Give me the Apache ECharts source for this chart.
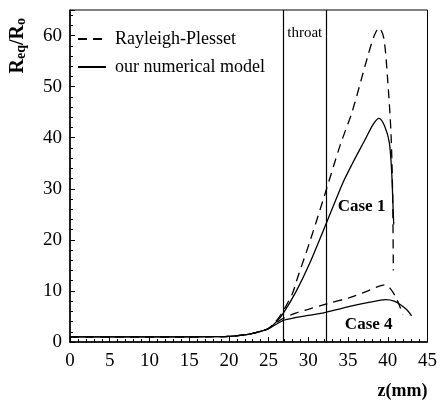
<!DOCTYPE html>
<html>
<head>
<meta charset="utf-8">
<script src="https://cdn.jsdelivr.net/npm/echarts@6/dist/echarts.min.js"></script>
<style>html,body{margin:0;padding:0;background:#fff}#c{width:440px;height:404px}</style>
</head>
<body>
<div id="c"></div>
<script>
// z (mm), Req/R0
var case1RP = [[0,1],[5,1],[10,1],[15,1],[18,1.05],[20,1.1],[22,1.4],[23,1.7],[24,2.1],[25,2.7],[26,4.2],[26.8,6],[28,9.5],[28.5,11.9],[30.2,19.7],[31.8,27.5],[34,38.5],[35.5,45],[37.4,55.5],[38.3,60],[38.9,61.5],[39.5,59.5],[40,51],[40.4,41],[40.6,30],[40.7,14]];
var case1Model = [[0,1],[5,1],[10,1],[15,1],[18,1.05],[20,1.1],[22,1.4],[23,1.7],[24,2.1],[25,2.6],[26,4],[26.8,5.5],[28.5,10],[30.2,15.5],[32.2,23],[34.3,31],[35.5,34.8],[37,39.2],[38.2,42.7],[38.9,43.8],[39.6,42.3],[40.2,39],[40.5,33],[40.65,27],[40.75,23]];
var case4RP = [[0,1],[5,1],[10,1],[15,1],[18,1.05],[20,1.1],[22,1.4],[23,1.7],[24,2.1],[25,2.7],[26.8,4.6],[28.5,5.7],[30,6.4],[32.2,7.4],[35.2,8.7],[37.5,10],[38.7,10.8],[39.6,11.2],[40.3,10.5],[41,8.8],[41.5,7],[41.9,5.3]];
var case4Model = [[0,1],[5,1],[10,1],[15,1],[18,1.05],[20,1.1],[22,1.4],[23,1.7],[24,2.1],[25,2.6],[26.8,4.2],[28.5,4.8],[30,5.2],[32.2,5.8],[34,6.5],[36.5,7.4],[38.5,8.0],[39.8,8.3],[40.8,8.0],[41.6,7.3],[42.4,6.3],[43,5.1]];
var throatLines = [26.9, 32.2];
var seriesNames = ['Rayleigh-Plesset', 'our numerical model'];
var xTicks = [0, 5, 10, 15, 20, 25, 30, 35, 40, 45];
var yTicks = [0, 10, 20, 30, 40, 50, 60];

var FONT = '"Liberation Serif", "DejaVu Serif", serif';
var chart = echarts.init(document.getElementById('c'));
var dashed = [9, 6];
function lineSeries(name, data, type, extra) {
  var s = {
    name: name, type: 'line', data: data, symbol: 'none', smooth: 0.3,
    lineStyle: { color: '#000', width: 1.3, type: type },
    itemStyle: { color: '#000' }, animation: false, silent: true, z: 3
  };
  if (extra) Object.assign(s, extra);
  return s;
}
function txt(coord, text, size, weight) {
  return { coord: coord, symbol: 'circle', symbolSize: 1, itemStyle: { color: 'rgba(0,0,0,0)' },
    label: { show: true, position: 'inside', formatter: text, fontFamily: FONT, fontSize: size, fontWeight: weight, color: '#000' } };
}
var option = {
  animation: false,
  grid: { left: 70, right: 12, top: 10, bottom: 62, show: true, borderColor: '#000', borderWidth: 1 },
  legend: {
    left: 72, top: 25, orient: 'vertical', itemWidth: 28, itemHeight: 14, itemGap: 10,
    data: seriesNames,
    itemStyle: { opacity: 0 },
    textStyle: { fontFamily: FONT, fontSize: 18, color: '#000', padding: [0, 0, 0, 4] }
  },
  xAxis: {
    type: 'value', min: 0, max: 45, interval: 5,
    axisLine: { lineStyle: { color: '#000', width: 1.5 } },
    axisTick: { inside: true, length: 5, lineStyle: { color: '#000' } },
    minorTick: { show: true, splitNumber: 5, length: 3, lineStyle: { color: '#000' } },
    splitLine: { show: false },
    axisLabel: { fontFamily: FONT, fontSize: 19, color: '#000', margin: 10,
      formatter: function (v) { return xTicks.indexOf(v) >= 0 ? String(v) : ''; } },
    name: 'z(mm)', nameLocation: 'end', nameGap: 0,
    nameTextStyle: { fontFamily: FONT, fontSize: 18, fontWeight: 'bold', color: '#000',
      align: 'right', verticalAlign: 'top', padding: [40, 0, 0, 0] }
  },
  yAxis: {
    type: 'value', min: 0, max: 65, interval: 10,
    axisLine: { show: true, lineStyle: { color: '#000', width: 1.5 } },
    axisTick: { show: true, inside: true, length: 5, lineStyle: { color: '#000' } },
    minorTick: { show: true, splitNumber: 5, length: 3, lineStyle: { color: '#000' } },
    splitLine: { show: false },
    axisLabel: { fontFamily: FONT, fontSize: 19, color: '#000', margin: 8,
      formatter: function (v) { return yTicks.indexOf(v) >= 0 ? String(v) : ''; } }
  },
  graphic: [{
    type: 'text', left: 8, top: 18, rotation: Math.PI / 2,
    style: {
      text: '{a|R}{b|eq}{a|/R}{b|o}',
      rich: {
        a: { fontFamily: FONT, fontSize: 20, fontWeight: 'bold', fill: '#000' },
        b: { fontFamily: FONT, fontSize: 14, fontWeight: 'bold', fill: '#000', verticalAlign: 'bottom', padding: [6, 0, 0, 0] }
      }
    }
  }],
  series: [
    lineSeries(seriesNames[0], case1RP, dashed, {
      markLine: {
        silent: true, symbol: 'none', animation: false,
        lineStyle: { color: '#000', width: 1.2, type: 'solid' },
        label: { show: false },
        data: throatLines.map(function (v) { return { xAxis: v }; })
      },
      markPoint: {
        silent: true, animation: false,
        data: [
          txt([29.55, 60.5], 'throat', 15, 'normal'),
          txt([36.7, 26.5], 'Case 1', 17, 'bold'),
          txt([37.6, 3.4], 'Case 4', 17, 'bold')
        ]
      }
    }),
    lineSeries(seriesNames[1], case1Model, 'solid'),
    lineSeries(seriesNames[0], case4RP, dashed),
    lineSeries(seriesNames[1], case4Model, 'solid')
  ]
};
chart.setOption(option);
</script>
</body>
</html>
